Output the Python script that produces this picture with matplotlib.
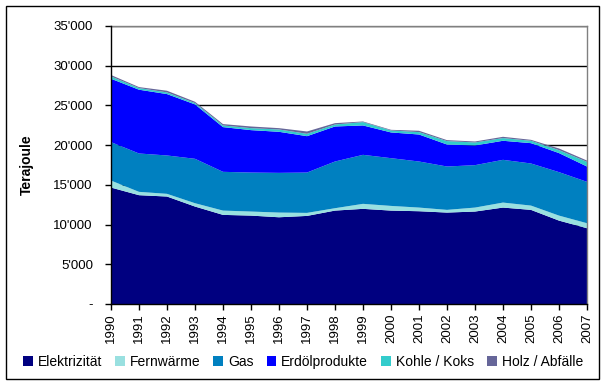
import matplotlib
matplotlib.use("Agg")
import matplotlib.pyplot as plt
from matplotlib.patches import Patch, Rectangle
from matplotlib.ticker import FuncFormatter

years = list(range(1990, 2008))
elektrizitaet = [14660, 13700, 13530, 12270, 11220, 11130, 10920, 11090, 11760,
                 11980, 11760, 11680, 11510, 11640, 12140, 11850, 10500, 9540]
fernwaerme = [880, 420, 340, 420, 540, 510, 590, 380, 300,
              630, 590, 460, 340, 500, 630, 540, 630, 630]
gas = [4840, 4830, 4830, 5590, 4880, 4910, 5000, 5080, 5880,
       6170, 6010, 5800, 5460, 5340, 5380, 5300, 5470, 5210]
erdoel = [7980, 8030, 7730, 6850, 5630, 5340, 5170, 4580, 4410,
          3700, 3240, 3400, 2770, 2480, 2400, 2560, 2400, 1930]
kohle = [290, 210, 210, 170, 210, 250, 290, 300, 250,
         420, 250, 300, 430, 380, 340, 300, 370, 590]
holz = [180, 120, 210, 160, 170, 210, 170, 290, 170,
        80, 80, 170, 120, 120, 160, 120, 210, 160]

labels = ["Elektrizität", "Fernwärme", "Gas", "Erdölprodukte", "Kohle / Koks", "Holz / Abfälle"]
colors = ["#000080", "#99E0E0", "#0080C0", "#0000FF", "#33CCCC", "#666699"]
series = [elektrizitaet, fernwaerme, gas, erdoel, kohle, holz]

plt.rcParams['font.family'] = ['Liberation Sans', 'DejaVu Sans']

W, H = 606, 385
fig = plt.figure(figsize=(W / 100, H / 100), dpi=100)
fig.patches.append(Rectangle((5.5 / W, 1 - 378.5 / H), 593 / W, 373 / H,
                             transform=fig.transFigure, fill=False,
                             edgecolor="black", linewidth=1.0))

L, R, T, B = 111, 587, 26, 304
ax = fig.add_axes([L / W, 1 - B / H, (R - L) / W, (B - T) / H])

ax.stackplot(years, *series, colors=colors, linewidth=0, zorder=2)

ax.set_xlim(1990, 2007)
ax.set_ylim(0, 35000)
ax.set_yticks(range(0, 35001, 5000))
ax.set_xticks(years)
ax.set_xticklabels([str(y) for y in years], rotation=90, fontsize=9.5)
ax.yaxis.set_major_formatter(FuncFormatter(
    lambda v, p: "-" if v == 0 else f"{int(v):,}".replace(",", "'")))
ax.tick_params(axis='y', labelsize=9.5, length=4, width=1, direction='out', pad=9)
ax.tick_params(axis='x', length=4, width=1, direction='out', pad=3)

ax.grid(axis='y', color='black', linewidth=1, zorder=0)
ax.set_axisbelow(True)
for s in ['left', 'bottom']:
    ax.spines[s].set_color('black')
    ax.spines[s].set_linewidth(1)
    ax.spines[s].set_zorder(3)
for s in ['top', 'right']:
    ax.spines[s].set_color('#808080')
    ax.spines[s].set_linewidth(1)

ax.set_ylabel("Terajoule", fontsize=10, fontweight='bold', labelpad=14)

handles = [Patch(facecolor=c, edgecolor='none') for c in colors]
fig.legend(handles, labels, loc='center', bbox_to_anchor=(0.5, 1 - 362 / H),
           ncol=6, frameon=False, fontsize=10, handlelength=0.7, handleheight=0.7,
           handletextpad=0.35, columnspacing=0.95, borderaxespad=0)

fig.savefig("out.png", dpi=100)
